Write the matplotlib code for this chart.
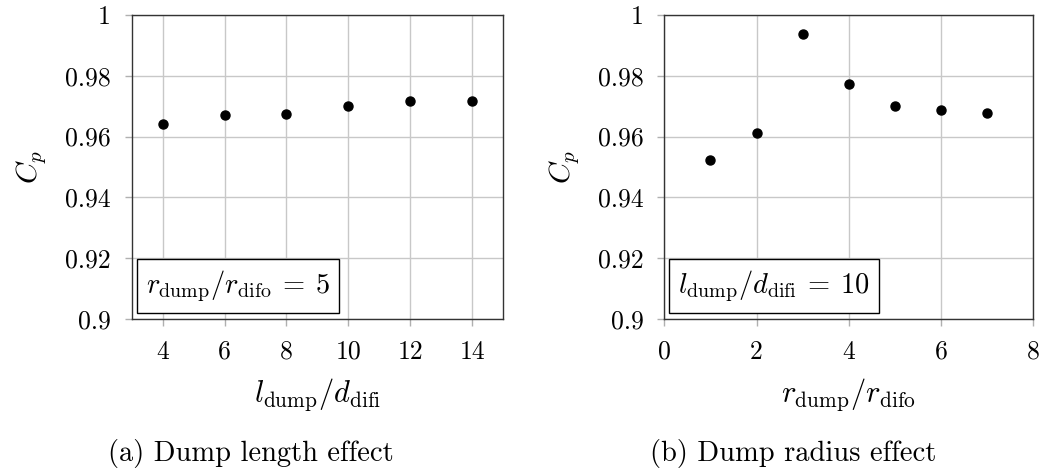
import matplotlib
matplotlib.use("Agg")
import matplotlib.pyplot as plt

plt.rcParams['font.family'] = 'serif'
plt.rcParams['font.serif'] = ['cmr10']
plt.rcParams['mathtext.fontset'] = 'cm'
plt.rcParams['axes.unicode_minus'] = False

# ---- data ----
l_dump = [4, 6, 8, 10, 12, 14]
cp_length = [0.9642, 0.9670, 0.9675, 0.9702, 0.9717, 0.9717]

r_dump = [1, 2, 3, 4, 5, 6, 7]
cp_radius = [0.9523, 0.9613, 0.9936, 0.9774, 0.9702, 0.9689, 0.9677]

y_ticks = [0.9, 0.92, 0.94, 0.96, 0.98, 1.0]
y_tick_labels = ['0.9', '0.92', '0.94', '0.96', '0.98', '1']
x_ticks_a = [4, 6, 8, 10, 12, 14]
x_ticks_b = [0, 2, 4, 6, 8]

FS = 18.5
W, H = 1047, 473

fig = plt.figure(figsize=(W / 100, H / 100), dpi=100)
ax1 = fig.add_axes([131.7 / W, 154 / H, 371.3 / W, 304 / H])
ax2 = fig.add_axes([664.3 / W, 154 / H, 369 / W, 304 / H])


def style(ax, xt, xlim, box_txt):
    ax.set_ylim(0.9, 1.0)
    ax.set_xlim(*xlim)
    ax.set_yticks(y_ticks, y_tick_labels)
    ax.set_xticks(xt, [str(v) for v in xt])
    ax.grid(True, color='#c8c8c8', lw=1.0)
    ax.set_axisbelow(True)
    for s in ax.spines.values():
        s.set_color('#333333')
        s.set_linewidth(1.0)
    ax.tick_params(direction='out', length=5, width=1, color='#b0b0b0',
                   labelsize=FS, pad=10, top=False, right=False)
    ax.set_ylabel(r'$C_p$', fontsize=FS + 3, labelpad=12)
    ax.text(0.038, 0.05, box_txt, transform=ax.transAxes, fontsize=FS + 2,
            ha='left', va='bottom',
            bbox=dict(boxstyle='square,pad=0.32', fc='white', ec='black', lw=1.0))


ax1.plot(l_dump, cp_length, 'o', color='black', ms=6.5, clip_on=False)
style(ax1, x_ticks_a, (3, 15), r'$r_{\mathrm{dump}}/r_{\mathrm{difo}}\:=\:5$')
ax1.set_xlabel(r'$l_{\mathrm{dump}}/d_{\mathrm{difi}}$', fontsize=FS + 3.5, labelpad=9)

ax2.plot(r_dump, cp_radius, 'o', color='black', ms=6.5, clip_on=False)
style(ax2, x_ticks_b, (0, 8), r'$l_{\mathrm{dump}}/d_{\mathrm{difi}}\:=\:10$')
ax2.set_xlabel(r'$r_{\mathrm{dump}}/r_{\mathrm{difo}}$', fontsize=FS + 3.5, labelpad=9)

fig.text(251 / W, 1 - 453 / H, '(a) Dump length effect', fontsize=FS + 2,
         ha='center', va='center')
fig.text(793 / W, 1 - 453 / H, '(b) Dump radius effect', fontsize=FS + 2,
         ha='center', va='center')

fig.savefig('out.png', dpi=100)
